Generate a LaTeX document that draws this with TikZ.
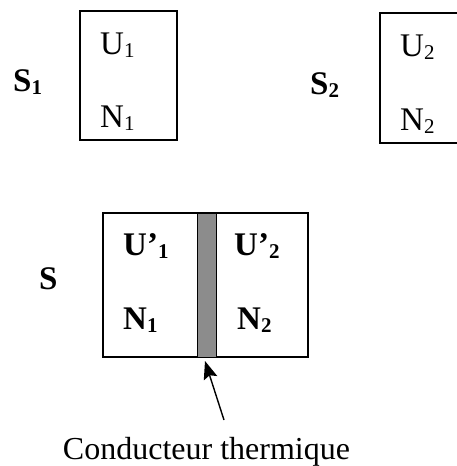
\documentclass[tikz,border=0pt]{standalone}
\usepackage{fontspec}
\setmainfont{Liberation Serif}
\usetikzlibrary{arrows.meta}
\newcommand{\lowsub}[1]{\raisebox{-0.12em}{\fontsize{21}{21}\selectfont #1}}
\tikzset{
  boxline/.style={line width=1.3pt},
  lbl/.style={inner sep=0pt, anchor=base west, font=\fontsize{33}{33}\selectfont},
  blbl/.style={inner sep=0pt, anchor=base west, font=\fontsize{33}{33}\selectfont\bfseries},
  captext/.style={inner sep=0pt, anchor=base, font=\fontsize{32}{32}\selectfont},
}
\begin{document}
\begin{tikzpicture}[x=1pt,y=-1pt]
\useasboundingbox (0,0) rectangle (457,466);
\clip (0,0) rectangle (457,466);
% top-left system
\draw[boxline] (80,11) rectangle (177,140);
\node[blbl] (s1) at (13,91) {S\lowsub{1}};
\node[lbl] (u1) at (100,54) {U\lowsub{1}};
\node[lbl] (n1) at (100,127) {N\lowsub{1}};
% top-right system
\draw[boxline] (380,13) rectangle (470,143);
\node[blbl] (s2) at (310,94) {S\lowsub{2}};
\node[lbl] (u2) at (400,56) {U\lowsub{2}};
\node[lbl] (n2) at (400,130) {N\lowsub{2}};
% combined system
\draw[boxline] (103,213) rectangle (308,357);
\draw[line width=1pt, fill={rgb,255:red,140;green,140;blue,140}] (197,213) rectangle (216,357);
\node[blbl] (s) at (39,289) {S};
\node[blbl] (up1) at (123,255) {U’\lowsub{1}};
\node[blbl] (bn1) at (123,329) {N\lowsub{1}};
\node[blbl] (up2) at (234,255) {U’\lowsub{2}};
\node[blbl] (bn2) at (237,329) {N\lowsub{2}};
% conductor arrow and caption
\node[captext] (c) at (206.5,459) {Conducteur thermique};
\coordinate (tail) at (224,420);
\coordinate (tip) at (205,361);
\draw[line width=1.4pt, -{Stealth[length=18pt,width=14pt,inset=3pt]}] (tail) -- (tip);
\end{tikzpicture}
\end{document}
